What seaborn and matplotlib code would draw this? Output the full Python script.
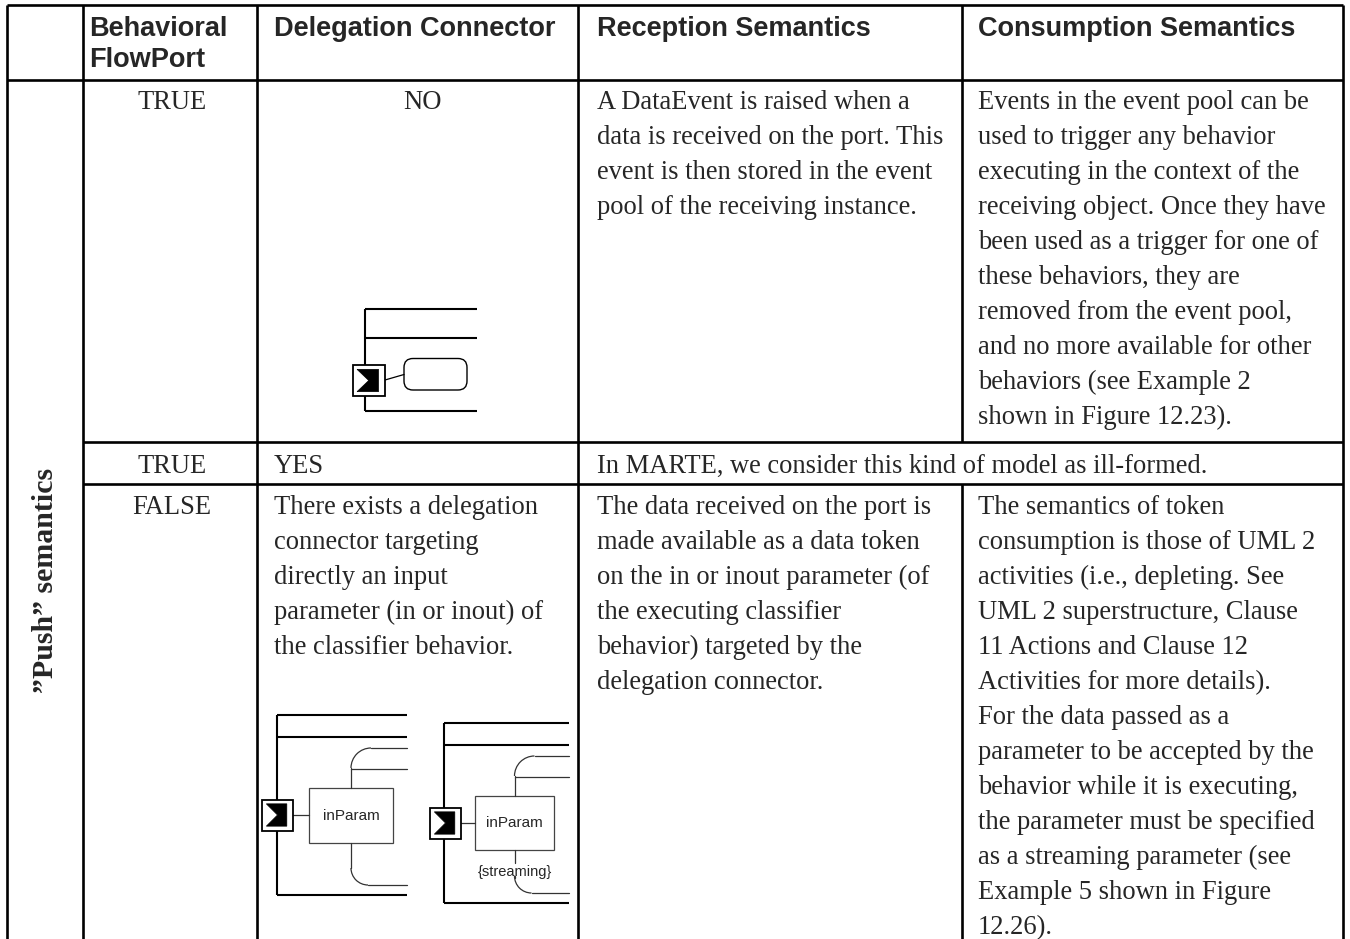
import matplotlib
matplotlib.use("Agg")
import matplotlib.pyplot as plt
from matplotlib.patches import Rectangle, Polygon, Arc, FancyBboxPatch
import seaborn as sns

# table content
headers = ["Behavioral\nFlowPort", "Delegation Connector", "Reception Semantics", "Consumption Semantics"]
side_label = "\u201dPush\u201d semantics"
flowport = ["TRUE", "TRUE", "FALSE"]
delegation = ["NO",
              "YES",
              "There exists a delegation\nconnector targeting\ndirectly an input\nparameter (in or inout) of\nthe classifier behavior."]
reception = ["A DataEvent is raised when a\ndata is received on the port. This\nevent is then stored in the event\npool of the receiving instance.",
             "In MARTE, we consider this kind of model as ill-formed.",
             "The data received on the port is\nmade available as a data token\non the in or inout parameter (of\nthe executing classifier\nbehavior) targeted by the\ndelegation connector."]
consumption = ["Events in the event pool can be\nused to trigger any behavior\nexecuting in the context of the\nreceiving object. Once they have\nbeen used as a trigger for one of\nthese behaviors, they are\nremoved from the event pool,\nand no more available for other\nbehaviors (see Example 2\nshown in Figure 12.23).",
               None,
               "The semantics of token\nconsumption is those of UML 2\nactivities (i.e., depleting. See\nUML 2 superstructure, Clause\n11 Actions and Clause 12\nActivities for more details).\nFor the data passed as a\nparameter to be accepted by the\nbehavior while it is executing,\nthe parameter must be specified\nas a streaming parameter (see\nExample 5 shown in Figure\n12.26)."]
param_name = "inParam"
param_stereo = "{streaming}"

sns.set_style("white")
plt.rcParams["font.family"] = ["Liberation Serif", "DejaVu Serif"]

# layout in pixels
col_x = [7, 83, 257, 578, 962, 1343]
row_y = [5, 80, 442, 484, 939]
pad_x = [6, 17, 19, 16]
pitch = 35.0
body_fs = 19.1
head_fs = 19.5

fig = plt.figure(figsize=(13.5, 9.39), dpi=100)
ax = fig.add_axes([0, 0, 1, 1])
ax.set_xlim(0, 1350)
ax.set_ylim(939, 0)
ax.axis("off")

lw = 1.9
# horizontal rules
ax.hlines([row_y[0], row_y[1]], col_x[0], col_x[-1], color="black", lw=lw)
ax.hlines([row_y[2], row_y[3]], col_x[1], col_x[-1], color="black", lw=lw)
# vertical rules
for cx in [col_x[0], col_x[1], col_x[2], col_x[3], col_x[5]]:
    ax.vlines(cx, row_y[0], row_y[-1], color="black", lw=lw)
ax.vlines(col_x[4], row_y[0], row_y[2], color="black", lw=lw)
ax.vlines(col_x[4], row_y[3], row_y[-1], color="black", lw=lw)

# header
for i, h in enumerate(headers):
    for k, line in enumerate(h.split("\n")):
        ax.text(col_x[i + 1] + pad_x[i], 36 + k * 31, line, family="Liberation Sans",
                weight="bold", fontsize=head_fs, va="baseline", ha="left")

ax.text(46, 580, side_label, rotation=90, weight="bold",
        fontsize=21.5, ha="center", va="center")


def put(text, x, y0, ha="left"):
    for k, line in enumerate(text.split("\n")):
        ax.text(x, y0 + k * pitch, line, fontsize=body_fs, va="baseline", ha=ha)


body_base = [row_y[1] + 29, row_y[2] + 31, row_y[3] + 30]
for r in range(3):
    y0 = body_base[r]
    put(flowport[r], (col_x[1] + col_x[2]) / 2 + 2, y0, ha="center")
    if r == 0:
        put(delegation[r], (col_x[2] + col_x[3]) / 2 + 5, y0, ha="center")
    else:
        put(delegation[r], col_x[2] + pad_x[1], y0)
    put(reception[r], col_x[3] + pad_x[2], y0)
    if consumption[r] is not None:
        put(consumption[r], col_x[4] + pad_x[3], y0)


# small UML sketches
def port(x, y, w, h):
    ax.add_patch(Rectangle((x, y), w, h, facecolor="white", edgecolor="black", lw=1.3, zorder=3))
    pts = [(x + 0.14 * w, y + 0.14 * h), (x + 0.8 * w, y + 0.14 * h), (x + 0.8 * w, y + 0.86 * h),
           (x + 0.14 * w, y + 0.86 * h), (x + 0.5 * w, y + 0.5 * h)]
    ax.add_patch(Polygon(pts, closed=True, facecolor="black", edgecolor="black", lw=0.5, zorder=4))


def frame(x, top, second, bottom, right):
    ax.vlines(x, top, bottom, color="black", lw=1.5)
    ax.hlines([top, second, bottom], x, right, color="black", lw=1.5)


# row 1 sketch
frame(365, 309, 338, 411, 477)
port(352.5, 365, 32.5, 31)
ax.plot([385, 404], [380, 374.5], color="black", lw=0.9)
ax.add_patch(FancyBboxPatch((404, 358.5), 63, 31.5, boxstyle="round,pad=0,rounding_size=9",
                            facecolor="white", edgecolor="black", lw=1.0))


def param_sketch(fx, top, second, bottom, right, px, py, bx, by, bw, bh, streaming):
    frame(fx, top, second, bottom, right)
    port(px, py, 31, 31)
    ax.plot([px + 31, bx], [py + 15.5, py + 15.5], color="#333", lw=0.9)
    ax.add_patch(Rectangle((bx, by), bw, bh, facecolor="white", edgecolor="#444", lw=0.9))
    cx = bx + bw / 2
    ax.text(cx, by + bh / 2, param_name, family="Liberation Sans", fontsize=11,
            ha="center", va="center")
    # upper branch
    r1 = 20
    up = second + 11
    ax.plot([cx, cx], [by, up + r1], color="#333", lw=0.9)
    ax.add_patch(Arc((cx + r1, up + r1), 2 * r1, 2 * r1, theta1=180, theta2=270, color="#333", lw=0.9))
    ax.plot([cx + r1, right], [up, up], color="#333", lw=0.9)
    ax.plot([cx, right], [up + 21, up + 21], color="#333", lw=0.9)
    # lower branch
    r2 = 17
    low = bottom - 10
    if streaming:
        ax.plot([cx, cx], [by + bh, by + bh + 13], color="#333", lw=0.9)
        ax.text(cx, by + bh + 22, param_stereo, family="Liberation Sans", fontsize=10.5,
                ha="center", va="center")
        ax.plot([cx, cx], [by + bh + 28, low - r2], color="#333", lw=0.9)
    else:
        ax.plot([cx, cx], [by + bh, low - r2], color="#333", lw=0.9)
    ax.add_patch(Arc((cx + r2, low - r2), 2 * r2, 2 * r2, theta1=90, theta2=180, color="#333", lw=0.9))
    ax.plot([cx + r2, right], [low, low], color="#333", lw=0.9)


param_sketch(277, 715, 737, 895, 407, 262, 799.5, 309, 788, 84, 55, False)
param_sketch(443.5, 723, 745, 903, 569, 430, 807.5, 475, 796, 79, 54, True)

fig.savefig("out.png", dpi=100)
